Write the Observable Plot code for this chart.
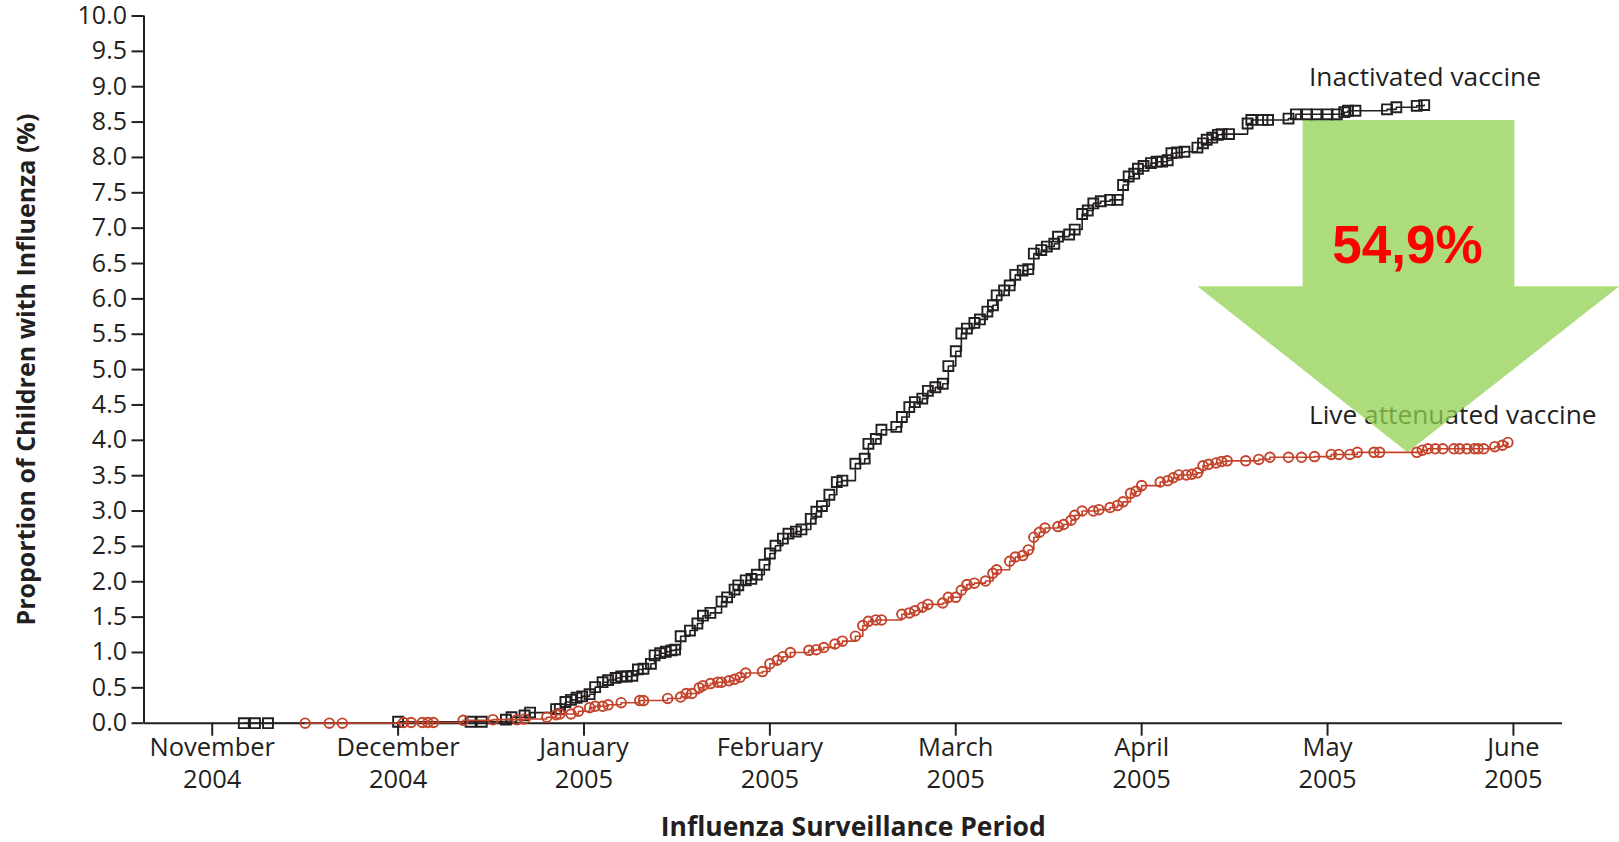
<!DOCTYPE html>
<html>
<head>
<meta charset="utf-8">
<script src="https://cdn.jsdelivr.net/npm/d3@7"></script>
<script src="https://cdn.jsdelivr.net/npm/@observablehq/plot@0.6"></script>
<style>
  html, body { margin: 0; padding: 0; background: #ffffff; }
</style>
</head>
<body>
<div id="chart"></div>
<script>
// x = months since November 1, 2004 (0 = Nov, 1 = Dec, ... 7 = Jun); y = cumulative % of children with influenza
const monthLabels = ["November", "December", "January", "February", "March", "April", "May", "June"];
const yearLabels = ["2004", "2004", "2005", "2005", "2005", "2005", "2005", "2005"];
const monthTicks = [0, 1, 2, 3, 4, 5, 6, 7];
const yTicks = [0, 0.5, 1, 1.5, 2, 2.5, 3, 3.5, 4, 4.5, 5, 5.5, 6, 6.5, 7, 7.5, 8, 8.5, 9, 9.5, 10];

const inactivated = [
  [0.17,0],[0.23,0],[0.30,0],[1.00,0.02],[1.39,0.02],[1.45,0.02],[1.58,0.05],[1.61,0.085],[1.68,0.11],[1.71,0.15],
  [1.85,0.20],[1.87,0.20],[1.90,0.30],[1.93,0.33],[1.96,0.36],[1.99,0.38],[2.03,0.41],[2.06,0.51],[2.10,0.58],[2.13,0.61],
  [2.17,0.64],[2.20,0.66],[2.23,0.66],[2.26,0.67],[2.29,0.76],[2.32,0.77],[2.36,0.84],[2.38,0.96],[2.41,0.99],[2.44,1.01],
  [2.47,1.03],[2.49,1.04],[2.52,1.23],[2.57,1.31],[2.61,1.41],[2.64,1.52],[2.68,1.56],[2.74,1.72],[2.77,1.78],[2.81,1.89],
  [2.83,1.95],[2.87,2.02],[2.90,2.04],[2.93,2.10],[2.97,2.24],[3.00,2.40],[3.03,2.51],[3.07,2.61],[3.10,2.68],[3.14,2.71],
  [3.17,2.74],[3.22,2.89],[3.25,2.99],[3.28,3.07],[3.32,3.23],[3.36,3.41],[3.39,3.43],[3.46,3.67],[3.51,3.74],[3.53,3.95],
  [3.57,4.02],[3.60,4.15],[3.68,4.19],[3.71,4.33],[3.75,4.47],[3.78,4.54],[3.82,4.59],[3.85,4.70],[3.89,4.75],[3.93,4.80],
  [3.96,5.05],[4.00,5.26],[4.03,5.51],[4.06,5.58],[4.10,5.66],[4.13,5.71],[4.17,5.82],[4.20,5.91],[4.22,6.05],[4.26,6.12],
  [4.29,6.19],[4.32,6.34],[4.36,6.40],[4.39,6.42],[4.42,6.64],[4.46,6.69],[4.49,6.74],[4.53,6.78],[4.55,6.88],[4.61,6.91],
  [4.64,6.98],[4.68,7.20],[4.71,7.25],[4.74,7.35],[4.78,7.38],[4.83,7.40],[4.87,7.40],[4.90,7.61],[4.93,7.73],[4.96,7.77],
  [4.98,7.84],[5.01,7.88],[5.05,7.92],[5.08,7.94],[5.11,7.94],[5.14,7.96],[5.16,8.06],[5.19,8.07],[5.23,8.08],[5.30,8.14],
  [5.33,8.20],[5.35,8.25],[5.38,8.28],[5.41,8.32],[5.43,8.33],[5.47,8.33],[5.57,8.48],[5.59,8.53],[5.65,8.53],[5.68,8.53],
  [5.79,8.55],[5.83,8.61],[5.89,8.61],[5.94,8.61],[6.00,8.61],[6.05,8.61],[6.09,8.64],[6.11,8.66],[6.15,8.66],[6.32,8.68],
  [6.37,8.71],[6.48,8.73],[6.52,8.74]
];

const liveAttenuated = [
  [0.50,0],[0.63,0],[0.70,0],[1.03,0.01],[1.07,0.01],[1.13,0.01],[1.16,0.01],[1.19,0.01],[1.35,0.04],[1.51,0.05],
  [1.64,0.05],[1.68,0.06],[1.80,0.085],[1.85,0.12],[1.87,0.13],[1.93,0.13],[1.97,0.17],[2.03,0.22],[2.06,0.24],[2.10,0.24],
  [2.13,0.26],[2.20,0.29],[2.30,0.32],[2.32,0.32],[2.45,0.35],[2.52,0.37],[2.55,0.42],[2.58,0.42],[2.62,0.50],[2.64,0.53],
  [2.68,0.56],[2.72,0.58],[2.74,0.58],[2.78,0.60],[2.81,0.62],[2.84,0.65],[2.87,0.71],[2.96,0.73],[3.00,0.84],[3.04,0.89],
  [3.07,0.94],[3.11,1.00],[3.21,1.03],[3.25,1.04],[3.29,1.07],[3.35,1.12],[3.39,1.16],[3.46,1.23],[3.50,1.38],[3.53,1.44],
  [3.57,1.46],[3.60,1.46],[3.71,1.54],[3.75,1.56],[3.78,1.59],[3.82,1.64],[3.85,1.68],[3.93,1.70],[3.96,1.78],[4.00,1.78],
  [4.03,1.88],[4.06,1.96],[4.10,1.98],[4.16,2.01],[4.20,2.12],[4.22,2.17],[4.29,2.29],[4.32,2.35],[4.36,2.37],[4.39,2.45],
  [4.42,2.63],[4.45,2.70],[4.48,2.76],[4.55,2.78],[4.58,2.81],[4.62,2.87],[4.64,2.94],[4.68,3.00],[4.74,3.00],[4.77,3.02],
  [4.83,3.05],[4.87,3.08],[4.90,3.13],[4.94,3.25],[4.97,3.28],[5.00,3.36],[5.10,3.41],[5.14,3.43],[5.17,3.47],[5.20,3.51],
  [5.24,3.51],[5.27,3.52],[5.30,3.54],[5.33,3.64],[5.36,3.66],[5.40,3.68],[5.43,3.70],[5.46,3.71],[5.56,3.71],[5.63,3.73],
  [5.69,3.76],[5.79,3.76],[5.86,3.76],[5.93,3.77],[6.02,3.80],[6.06,3.80],[6.12,3.80],[6.16,3.83],[6.25,3.83],[6.28,3.83],
  [6.48,3.83],[6.51,3.86],[6.54,3.88],[6.58,3.88],[6.62,3.88],[6.68,3.88],[6.71,3.88],[6.75,3.88],[6.79,3.88],[6.81,3.88],
  [6.84,3.88],[6.90,3.91],[6.94,3.93],[6.97,3.97]
];

// series labels (text, x, y in data units)
const seriesLabels = [
  {text: "Inactivated vaccine", x: 5.90, y: 9.13},
  {text: "Live attenuated vaccine", x: 5.90, y: 4.35}
];

// reduction arrow outline (data units) and its label
const arrowOutline = [
  [5.866, 8.53], [7.005, 8.53], [7.005, 6.18], [7.57, 6.18], [6.43, 3.83], [5.30, 6.18], [5.866, 6.18]
];
const reductionLabel = [{text: "54,9%", x: 6.43, y: 6.75}];

const xTitle = "Influenza Surveillance Period";
const yTitle = "Proportion of Children with Influenza (%)";

const ink = "#231f20";
const red = "#c4432b";

const chart = Plot.plot({
  width: 1619,
  height: 842,
  marginLeft: 143.5,
  marginRight: 57,
  marginTop: 15.5,
  marginBottom: 119.3,
  style: {fontFamily: "'Open Sans', sans-serif", fontSize: "25px", color: ink, background: "#ffffff", overflow: "visible"},
  x: {type: "linear", domain: [-0.367, 7.264]},
  y: {domain: [0, 10]},
  marks: [
    Plot.axisY({ticks: yTicks, tickFormat: d3.format(".1f"), tickSize: 12, tickPadding: 5, strokeWidth: 2, label: null, fontSize: 25}),
    Plot.axisX({ticks: monthTicks, tickFormat: i => monthLabels[i] + "\n" + yearLabels[i], tickSize: 13, tickPadding: -3, lineHeight: 1.26, strokeWidth: 2, label: null, fontSize: 25.5}),
    Plot.ruleY([0], {stroke: ink, strokeWidth: 2}),
    Plot.ruleX([-0.367], {stroke: ink, strokeWidth: 2}),
    Plot.text(seriesLabels, {x: "x", y: "y", text: "text", textAnchor: "start", fill: ink, fontSize: 26.3}),
    Plot.line(arrowOutline, {x: d => d[0], y: d => d[1], fill: "#92d050", fillOpacity: 0.75, stroke: "none", curve: "linear-closed"}),
    Plot.line(inactivated, {x: d => d[0], y: d => d[1], curve: "step-after", stroke: ink, strokeWidth: 1.6}),
    Plot.dot(inactivated, {x: d => d[0], y: d => d[1], symbol: "square", r: 5.6, stroke: ink, strokeWidth: 1.9, fill: "none"}),
    Plot.line(liveAttenuated, {x: d => d[0], y: d => d[1], curve: "step-after", stroke: red, strokeWidth: 1.6}),
    Plot.dot(liveAttenuated, {x: d => d[0], y: d => d[1], symbol: "circle", r: 4.8, stroke: red, strokeWidth: 1.9, fill: "none"}),
    Plot.text(reductionLabel, {x: "x", y: "y", text: "text", fill: "#ff0000", fontSize: 53, fontWeight: "bold", fontFamily: "'Liberation Sans', Arial, sans-serif"}),
    Plot.text([xTitle], {text: d => d, frameAnchor: "bottom", dy: 104, lineAnchor: "middle", textAnchor: "middle", fontWeight: "bold", fontSize: 26.5, fill: ink}),
    Plot.text([yTitle], {text: d => d, frameAnchor: "left", rotate: -90, dx: -117.5, lineAnchor: "middle", textAnchor: "middle", fontWeight: "bold", fontSize: 25, fill: ink})
  ]
});
document.getElementById("chart").appendChild(chart);
</script>
</body>
</html>
